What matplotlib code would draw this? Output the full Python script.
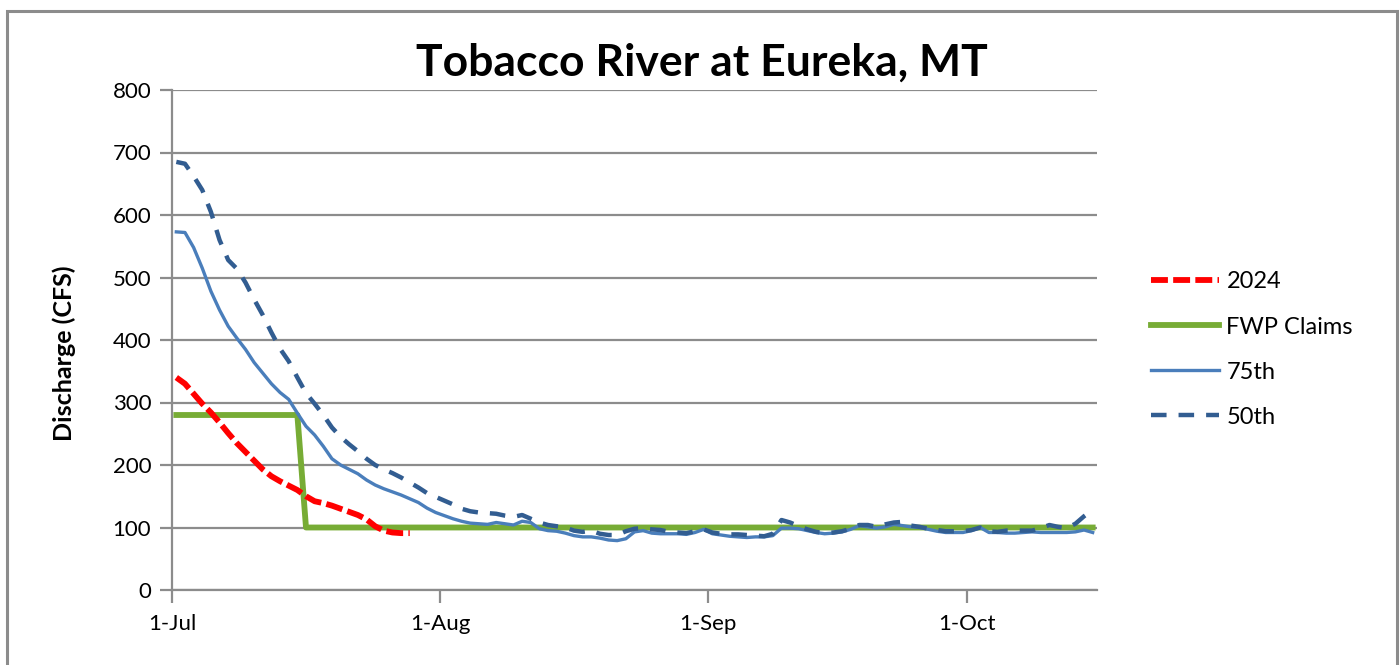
import matplotlib
matplotlib.use("Agg")
import matplotlib.pyplot as plt
from matplotlib.patches import Rectangle
import numpy as np

plt.rcParams['font.family'] = ['Lato', 'DejaVu Sans']

title = "Tobacco River at Eureka, MT"
ylabel = "Discharge (CFS)"
month_labels = ["1-Jul", "1-Aug", "1-Sep", "1-Oct"]
month_start_days = [0, 31, 62, 92]
n_days = 107  # 1-Jul .. 15-Oct

flow_2024 = [340, 330, 314, 298, 284, 268, 251, 235, 221, 207,
             193, 182, 174, 167, 160, 150, 142, 139, 135, 130,
             125, 120, 113, 102, 95, 92, 91, 91]

fwp_claims = [280] * 15 + [100] * 92

p75 = [573, 572, 548, 515, 478, 448, 422, 403, 385, 364,
       347, 330, 316, 305, 283, 262, 248, 230, 210, 200,
       193, 186, 176, 168, 162, 157, 152, 146, 140, 131,
       124, 119, 114, 110, 107, 106, 105, 108, 106, 104,
       110, 108, 98, 95, 94, 91, 87, 85, 85, 83,
       80, 79, 82, 93, 95, 91, 90, 90, 90, 89,
       92, 97, 90, 88, 86, 85, 84, 85, 85, 87,
       99, 99, 98, 95, 92, 90, 91, 93, 97, 103,
       101, 99, 101, 105, 103, 101, 100, 97, 94, 92,
       92, 92, 95, 100, 92, 92, 91, 91, 92, 93,
       92, 92, 92, 92, 93, 96, 92]

p50 = [685, 682, 662, 640, 605, 560, 528, 514, 492, 465,
       440, 412, 386, 366, 340, 315, 298, 280, 260, 245,
       233, 222, 210, 200, 193, 187, 180, 172, 164, 155,
       149, 143, 137, 130, 126, 124, 123, 122, 119, 117,
       120, 114, 108, 104, 102, 100, 95, 93, 95, 90,
       88, 88, 94, 98, 99, 97, 96, 93, 92, 91,
       94, 97, 92, 90, 89, 89, 88, 87, 86, 90,
       112, 108, 102, 97, 93, 91, 92, 94, 98, 104,
       104, 101, 105, 108, 109, 103, 101, 98, 96, 94,
       94, 94, 96, 100, 94, 93, 95, 95, 95, 95,
       99, 104, 101, 99, 106, 118, 128]

W, H = 1400, 665
fig = plt.figure(figsize=(W / 100, H / 100), dpi=100)
fig.patch.set_facecolor('white')

# outer chart border
fig.patches.append(Rectangle((7 / W, -0.05), (1397 - 7) / W, 1.05 - 11 / H,
                             transform=fig.transFigure, fill=False,
                             edgecolor='#8c8c8c', linewidth=2.2))

ax = fig.add_axes([172 / W, 1 - 590 / H, (1097 - 172) / W, (590 - 90) / H])

grid_c = '#8c8c8c'
ax.set_ylim(0, 800)
ax.set_xlim(0, n_days)
ax.set_yticks(np.arange(0, 801, 100))
ax.yaxis.grid(True, color=grid_c, linewidth=1.6)
ax.set_axisbelow(True)
ax.set_xticks(month_start_days)
ax.set_xticklabels(month_labels)
for s in ['top', 'right']:
    ax.spines[s].set_visible(False)
for s in ['left', 'bottom']:
    ax.spines[s].set_color(grid_c)
    ax.spines[s].set_linewidth(1.6)
ax.tick_params(axis='both', colors=grid_c, length=9, width=1.6, labelsize=16,
               labelcolor='black')
ax.tick_params(axis='x', pad=8)
ax.tick_params(axis='y', pad=6)

x = np.arange(n_days) + 0.5
ax.plot(x[:len(flow_2024)], flow_2024, color='#ff0000', linewidth=4.2,
        dashes=(2.9, 0.9), label='2024', zorder=5)
ax.plot(x, fwp_claims, color='#77ac35', linewidth=4.2, label='FWP Claims',
        zorder=3)
ax.plot(x, p75, color='#4a7ebb', linewidth=2.4, label='75th', zorder=4)
ax.plot(x, p50, color='#325d91', linewidth=3.2, dashes=(3.5, 2.7),
        label='50th', zorder=4)

ax.set_ylabel(ylabel, fontsize=18, fontweight='bold')
ax.yaxis.set_label_coords(-0.104, 0.473)

fig.text(702 / W, 1 - 63 / H, title, fontsize=32, fontweight='bold',
         ha='center', va='center')

leg = ax.legend(loc='upper left', bbox_to_anchor=(1.048, 0.656), frameon=False,
                fontsize=17, handlelength=2.9, handletextpad=0.3,
                labelspacing=1.02, borderaxespad=0)

fig.savefig('out.png', dpi=100, facecolor='white')
